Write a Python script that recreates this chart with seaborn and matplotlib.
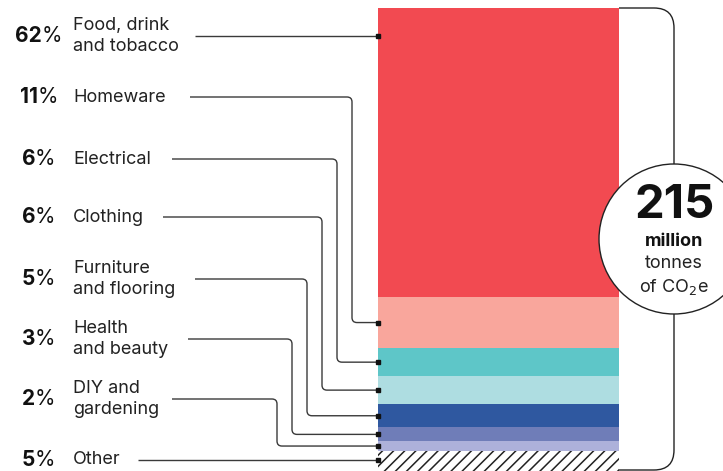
import numpy as np
import pandas as pd
import matplotlib
matplotlib.use("Agg")
import matplotlib.pyplot as plt
from matplotlib.path import Path
from matplotlib.patches import PathPatch, Circle
import seaborn as sns

# Share of retail emissions by category (top of the bar first)
categories = ["Food, drink\nand tobacco", "Homeware", "Electrical", "Clothing",
              "Furniture\nand flooring", "Health\nand beauty", "DIY and\ngardening", "Other"]
shares = [62, 11, 6, 6, 5, 3, 2, 5]
colors = ["#F24A51", "#F9A69C", "#5EC6C8", "#AEDDE1", "#2F58A0", "#6F7DB8", "#ADB1DA", "#FFFFFF"]
total_label = "215"
total_lines = ["million", "tonnes", "of CO$_2$e"]

sns.set_theme(style="white")
plt.rcParams["font.family"] = ["Inter", "DejaVu Sans"]
plt.rcParams["hatch.linewidth"] = 1.1
plt.rcParams["hatch.color"] = "#222222"

W, H = 723, 471
fig = plt.figure(figsize=(W / 100, H / 100), dpi=100)

# Stacked single bar, 0 at bottom, 100 at top (runs slightly past the lower edge)
bar_ax = fig.add_axes([378 / W, -3 / H, 241 / W, 466 / H])
order = list(range(len(shares)))[::-1]          # bottom-up: Other ... Food
bottoms_up = [shares[i] for i in order]
cum_tops = np.cumsum(bottoms_up)
df = pd.DataFrame({"x": ["all"] * len(order),
                   "top": cum_tops,
                   "cat": [categories[i] for i in order]})
# Draw the tallest cumulative bar first so each lower segment sits on top
for k in range(len(order) - 1, -1, -1):
    sns.barplot(data=df.iloc[[k]], x="x", y="top", color=colors[order[k]],
                width=1.0, saturation=1, ax=bar_ax, edgecolor="none", linewidth=0)
# Hatch the "Other" segment
other_patch = bar_ax.patches[-1]
other_patch.set_facecolor("white")
other_patch.set_hatch("///")
other_patch.set_edgecolor("#222222")
other_patch.set_linewidth(0)
bar_ax.set_xlim(-0.5, 0.5)
bar_ax.set_ylim(0, 100)
bar_ax.axis("off")

# Overlay in pixel coordinates for labels and connectors
ov = fig.add_axes([0, 0, 1, 1], zorder=5)
ov.set_xlim(0, W)
ov.set_ylim(H, 0)
ov.axis("off")
ov.patch.set_alpha(0)

def pct_to_px(p):
    disp = bar_ax.transData.transform((0, p))
    return ov.transData.inverted().transform(disp)[1]

# Segment midpoints in pixel space
bottoms = {}
acc = 0
for i in order:
    bottoms[i] = acc
    acc += shares[i]
mids = [pct_to_px(bottoms[i] + shares[i] / 2) for i in range(len(shares))]

row_y = [36, 97, 159, 217, 279, 339, 399, 460]
line_x0 = [195, 190, 172, 163, 195, 188, 172, 138]
elbow_x = [None, 352, 337, 322, 307, 292, 277, None]
bar_left = 378
lc = "#3a3a3a"
r = 5

for i in range(len(shares)):
    y0 = row_y[i]
    if elbow_x[i] is None:
        y1 = y0
        verts = [(line_x0[i], y0), (bar_left, y1)]
        codes = [Path.MOVETO, Path.LINETO]
    else:
        y1 = mids[i]
        xv = elbow_x[i]
        verts = [(line_x0[i], y0), (xv - r, y0), (xv, y0), (xv, y0 + r),
                 (xv, y1 - r), (xv, y1), (xv + r, y1), (bar_left, y1)]
        codes = [Path.MOVETO, Path.LINETO, Path.CURVE3, Path.CURVE3,
                 Path.LINETO, Path.CURVE3, Path.CURVE3, Path.LINETO]
    ov.add_patch(PathPatch(Path(verts, codes), fill=False, edgecolor=lc, lw=1.0))
    ov.plot([bar_left], [y1], marker="s", ms=2.4, color="#111111", zorder=6)

    # Category label
    ov.text(73, y0, categories[i], ha="left", va="center", fontsize=13,
            color="#222222", linespacing=1.25)

fig.canvas.draw()
renderer = fig.canvas.get_renderer()
for i in range(len(shares)):
    y0 = row_y[i]
    t1 = ov.text(0, y0, str(shares[i]), ha="left", va="center",
                 fontsize=15, fontweight="bold", color="#111111")
    t2 = ov.text(0, y0, "%", ha="left", va="center",
                 fontsize=15, color="#111111")
    w1 = t1.get_window_extent(renderer).width
    w2 = t2.get_window_extent(renderer).width
    left = 39 - (w1 + w2) / 2
    t1.set_x(left)
    t2.set_x(left + w1 - 0.5)

# Bracket around the bar with rounded corners
bx, rr = 674, 20
top_y, bot_y = 8, 470
verts = [(619, top_y), (bx - rr, top_y), (bx, top_y), (bx, top_y + rr),
         (bx, bot_y - rr), (bx, bot_y), (bx - rr, bot_y), (619, bot_y)]
codes = [Path.MOVETO, Path.LINETO, Path.CURVE3, Path.CURVE3,
         Path.LINETO, Path.CURVE3, Path.CURVE3, Path.LINETO]
ov.add_patch(PathPatch(Path(verts, codes), fill=False, edgecolor="#222222", lw=1.0))

# Total badge
ov.add_patch(Circle((674, 239), 75, facecolor="white", edgecolor="#222222", lw=1.0, zorder=7))
ov.text(675, 206, total_label, ha="center", va="center", fontsize=34,
        fontweight="bold", color="#111111", zorder=8)
ov.text(674, 241, total_lines[0], ha="center", va="center", fontsize=13,
        fontweight="bold", color="#111111", zorder=8)
ov.text(674, 263, total_lines[1], ha="center", va="center", fontsize=13,
        color="#222222", zorder=8)
ov.text(674, 287, total_lines[2], ha="center", va="center", fontsize=13,
        color="#222222", zorder=8)

fig.savefig("out.png", dpi=100)
